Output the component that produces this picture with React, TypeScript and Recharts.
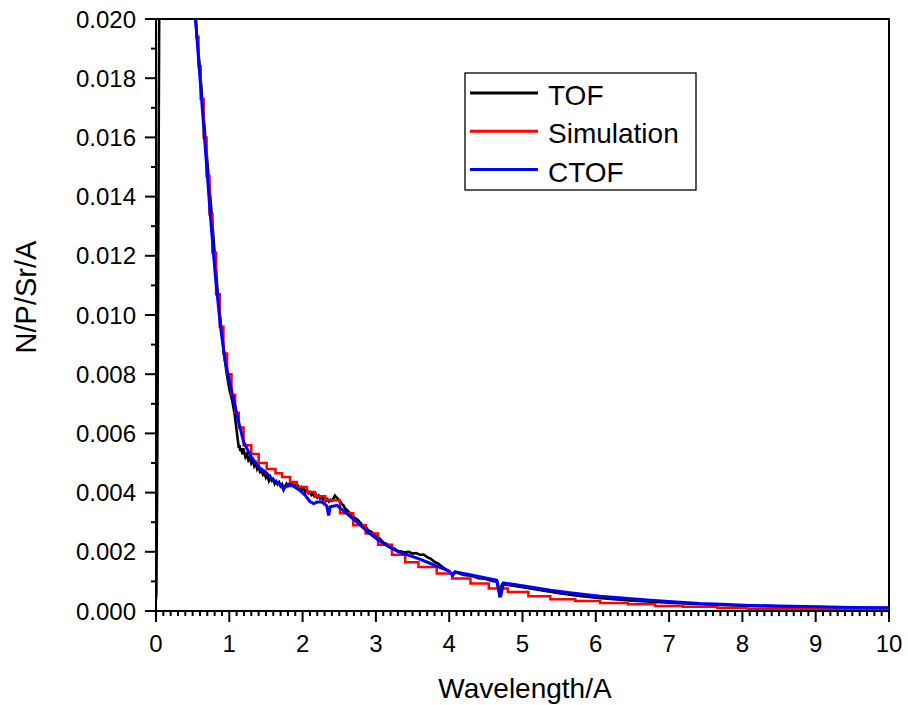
import { LineChart, Line, XAxis, YAxis, ReferenceArea } from "recharts";

// wavelength (A), N/P/Sr/A
const tofPoints: [number, number][] = [
  [0.0, 0.0004], [0.005, 0.0006], [0.015, 0.004], [0.025, 0.009], [0.035, 0.015],
  [0.045, 0.021], [0.06, 0.03], [0.1, 0.05], [0.3, 0.05], [0.45, 0.028],
  [0.5, 0.0222], [0.53, 0.0202], [0.56, 0.0194], [0.6, 0.0183], [0.64, 0.017],
  [0.68, 0.0158], [0.72, 0.0146], [0.76, 0.0134], [0.8, 0.0121], [0.84, 0.0108],
  [0.88, 0.0098], [0.92, 0.0089], [0.96, 0.0081], [1.0, 0.0075], [1.04, 0.0071],
  [1.07, 0.0067], [1.1, 0.0061], [1.12, 0.0057], [1.13, 0.0055], [1.14, 0.0056],
  [1.15, 0.0054], [1.16, 0.0055], [1.18, 0.0053], [1.19, 0.0055], [1.2, 0.0054],
  [1.22, 0.0052], [1.24, 0.0053], [1.26, 0.0051], [1.28, 0.0052], [1.3, 0.005],
  [1.32, 0.0051], [1.34, 0.0049], [1.36, 0.005], [1.38, 0.0048], [1.4, 0.0049],
  [1.42, 0.0047], [1.44, 0.00475], [1.46, 0.0046], [1.48, 0.00465], [1.5, 0.0045],
  [1.52, 0.00458], [1.54, 0.0044], [1.56, 0.00452], [1.58, 0.0044], [1.6, 0.00445],
  [1.62, 0.0043], [1.64, 0.00438], [1.66, 0.00428], [1.68, 0.00435], [1.7, 0.00422],
  [1.72, 0.00428], [1.74, 0.0041], [1.76, 0.00422], [1.78, 0.0043], [1.8, 0.00422],
  [1.82, 0.0043], [1.84, 0.00424], [1.86, 0.0043], [1.88, 0.00422], [1.9, 0.00426],
  [1.92, 0.00418], [1.94, 0.00422], [1.96, 0.00412], [1.98, 0.00418], [2.0, 0.00408],
  [2.02, 0.00412], [2.04, 0.00402], [2.06, 0.00408], [2.08, 0.00398], [2.1, 0.00402],
  [2.12, 0.00392], [2.14, 0.00398], [2.16, 0.00388], [2.18, 0.00394], [2.2, 0.00384],
  [2.22, 0.0039], [2.24, 0.0038], [2.26, 0.00385], [2.28, 0.00376], [2.3, 0.00382],
  [2.32, 0.00372], [2.34, 0.00378], [2.36, 0.0037], [2.38, 0.00376], [2.4, 0.00372],
  [2.42, 0.0038], [2.44, 0.0039], [2.46, 0.00384], [2.48, 0.0038], [2.5, 0.00372],
  [2.52, 0.00368], [2.54, 0.0036], [2.56, 0.00356], [2.58, 0.00346], [2.6, 0.00342],
  [2.65, 0.0033], [2.7, 0.00316], [2.75, 0.00308], [2.8, 0.00294], [2.85, 0.00286],
  [2.9, 0.00272], [2.95, 0.00265], [3.0, 0.00252], [3.05, 0.00245], [3.1, 0.00232],
  [3.15, 0.00226], [3.2, 0.00216], [3.25, 0.00211], [3.3, 0.00203], [3.35, 0.00201],
  [3.4, 0.00198], [3.45, 0.002], [3.5, 0.00194], [3.55, 0.00196], [3.6, 0.0019],
  [3.65, 0.00191], [3.7, 0.00182], [3.75, 0.00176], [3.8, 0.00166], [3.85, 0.0016],
  [3.9, 0.0015], [3.95, 0.00142], [4.0, 0.00132], [4.05, 0.0012], [4.08, 0.00132],
  [4.2, 0.00122], [4.3, 0.00119], [4.4, 0.00111], [4.5, 0.00108], [4.6, 0.00101],
  [4.65, 0.00099], [4.68, 0.0006], [4.72, 0.0009], [4.8, 0.00088], [5.0, 0.0008],
  [5.25, 0.0007], [5.5, 0.0006], [5.75, 0.00052], [6.0, 0.00045], [6.5, 0.00035],
  [7.0, 0.00028], [7.5, 0.00022], [8.0, 0.00018], [8.5, 0.00015], [9.0, 0.00013],
  [9.5, 0.00011], [10.0, 0.0001],
];

// histogram bins: [bin start, level]
const simulationPoints: [number, number][] = [
  [0.49, 0.0215], [0.52, 0.0204], [0.55, 0.0194], [0.58, 0.0184], [0.61, 0.0173],
  [0.65, 0.016], [0.69, 0.0147], [0.73, 0.0134], [0.77, 0.0121], [0.82, 0.0107],
  [0.87, 0.0096], [0.92, 0.0087], [0.97, 0.008], [1.03, 0.0073], [1.08, 0.0067],
  [1.13, 0.0062], [1.195, 0.0056], [1.3, 0.0053], [1.4, 0.005], [1.51, 0.0048],
  [1.63, 0.00465], [1.72, 0.00453], [1.83, 0.00436], [1.92, 0.00419], [2.06, 0.00402],
  [2.17, 0.00388], [2.31, 0.00374], [2.51, 0.0033], [2.69, 0.0029], [2.86, 0.00262],
  [3.03, 0.00224], [3.22, 0.0019], [3.4, 0.00165], [3.58, 0.00149], [3.83, 0.00127],
  [4.04, 0.0011], [4.29, 0.00093], [4.54, 0.00076], [4.8, 0.00064], [5.08, 0.0005],
  [5.38, 0.0004], [5.72, 0.00034], [6.06, 0.00027], [6.44, 0.00023], [6.81, 0.00017],
  [7.19, 0.00014], [7.66, 0.0001], [8.07, 0.00008], [8.55, 0.00007], [9.05, 0.00006],
  [9.58, 0.00006], [10.0, 0.00006],
];

const ctofPoints: [number, number][] = [
  [0.5, 0.0215], [0.536, 0.0201], [0.604, 0.01788], [0.673, 0.01564], [0.741, 0.01338],
  [0.809, 0.01135], [0.877, 0.00966], [0.945, 0.00841], [1.037, 0.00739], [1.127, 0.00639],
  [1.195, 0.00571], [1.218, 0.0056], [1.3, 0.0052], [1.4, 0.00487], [1.5, 0.00468],
  [1.58, 0.00447], [1.66, 0.00432], [1.7, 0.00425], [1.74, 0.00412], [1.78, 0.00424],
  [1.855, 0.00425], [1.95, 0.0041], [2.037, 0.00391], [2.1, 0.0037], [2.15, 0.00363],
  [2.2, 0.00368], [2.265, 0.00368], [2.33, 0.00355], [2.355, 0.00323], [2.378, 0.00352],
  [2.47, 0.00357], [2.6, 0.0033], [2.764, 0.00295], [2.9, 0.00265], [3.037, 0.00239],
  [3.17, 0.00218], [3.31, 0.002], [3.45, 0.00188], [3.58, 0.00177], [3.72, 0.00163],
  [3.855, 0.00149], [4.0, 0.00135], [4.04, 0.00122], [4.08, 0.00132], [4.3, 0.00122],
  [4.5, 0.00112], [4.65, 0.00104], [4.7, 0.00047], [4.74, 0.00095], [5.0, 0.00085],
  [5.38, 0.0007], [5.7, 0.0006], [6.06, 0.0005], [6.4, 0.00043], [6.74, 0.00036],
  [7.1, 0.0003], [7.42, 0.00025], [7.8, 0.00022], [8.1, 0.00019], [8.5, 0.00017],
  [9.02, 0.00014], [9.5, 0.00012], [10.0, 0.00011],
];

const series = [
  { name: "TOF", color: "#000000", points: tofPoints, width: 2.6, type: "linear" },
  { name: "Simulation", color: "#ff0000", points: simulationPoints, width: 2.5, type: "stepAfter" },
  { name: "CTOF", color: "#0000ff", points: ctofPoints, width: 3, type: "linear" },
];

// 0.1 A minor ticks, labels on whole numbers
const xTicks = Array.from({ length: 101 }, (_, i) => i / 10);
// 0.001 minor ticks, labels every 0.002
const yTicks = Array.from({ length: 21 }, (_, i) => i / 1000);

const FONT = "'Liberation Sans', Arial, sans-serif";

const XTick = (props: any) => {
  const { x, y, payload } = props;
  const i = Math.round(payload.value * 10);
  const major = i % 10 === 0;
  return (
    <g>
      <line x1={x} y1={y} x2={x} y2={y + (major ? 11 : 5)} stroke="#000" strokeWidth={2} />
      {major && (
        <text x={x} y={y + 41} textAnchor="middle" fontSize={24} fontFamily={FONT} fill="#000">
          {i / 10}
        </text>
      )}
    </g>
  );
};

const YTick = (props: any) => {
  const { x, y, payload } = props;
  const i = Math.round(payload.value * 1000);
  const major = i % 2 === 0;
  return (
    <g>
      <line x1={x - (major ? 11 : 5)} y1={y} x2={x} y2={y} stroke="#000" strokeWidth={2} />
      {major && (
        <text x={x - 20} y={y + 8.5} textAnchor="end" fontSize={24} fontFamily={FONT} fill="#000">
          {(i / 1000).toFixed(3)}
        </text>
      )}
    </g>
  );
};

export default function App() {
  return (
    <div style={{ position: "absolute", left: 0, top: 0, width: 908, height: 705, background: "#fff" }}>
      <LineChart width={908} height={705} margin={{ top: 19, right: 19, bottom: 0, left: 0 }}>
        <XAxis
          type="number"
          dataKey="x"
          domain={[0, 10]}
          ticks={xTicks}
          interval={0}
          tickSize={0}
          tickMargin={0}
          tickLine={false}
          tick={XTick}
          height={94}
          axisLine={{ stroke: "#000", strokeWidth: 2 }}
          allowDataOverflow
        />
        <YAxis
          type="number"
          dataKey="y"
          domain={[0, 0.02]}
          ticks={yTicks}
          interval={0}
          tickSize={0}
          tickMargin={0}
          tickLine={false}
          tick={YTick}
          width={156}
          axisLine={{ stroke: "#000", strokeWidth: 2 }}
          allowDataOverflow
        />
        <ReferenceArea x1={0} x2={10} y1={0} y2={0.02} fill="none" fillOpacity={0} stroke="#000" strokeWidth={2} />
        {series.map((s) => (
          <Line
            key={s.name}
            data={s.points.map(([x, y]) => ({ x, y }))}
            dataKey="y"
            name={s.name}
            type={s.type as any}
            stroke={s.color}
            strokeWidth={s.width}
            dot={false}
            activeDot={false}
            isAnimationActive={false}
          />
        ))}
      </LineChart>
      <svg
        width={908}
        height={705}
        style={{ position: "absolute", left: 0, top: 0, pointerEvents: "none" }}
        fontFamily={FONT}
      >
        <text x={525} y={698} textAnchor="middle" fontSize={28} fill="#000">
          Wavelength/A
        </text>
        <text
          x={0}
          y={0}
          transform="translate(36,297) rotate(-90)"
          textAnchor="middle"
          fontSize={29}
          fill="#000"
        >
          N/P/Sr/A
        </text>
        <rect x={465} y={73} width={231} height={117} fill="#fff" stroke="#000" strokeWidth={1.3} />
        {series.map((s, i) => (
          <g key={s.name}>
            <line x1={470} x2={538} y1={93 + i * 38.3} y2={93 + i * 38.3} stroke={s.color} strokeWidth={3} />
            <text x={548} y={105 + i * 38.3} fontSize={28} fill="#000">
              {s.name}
            </text>
          </g>
        ))}
      </svg>
    </div>
  );
}
